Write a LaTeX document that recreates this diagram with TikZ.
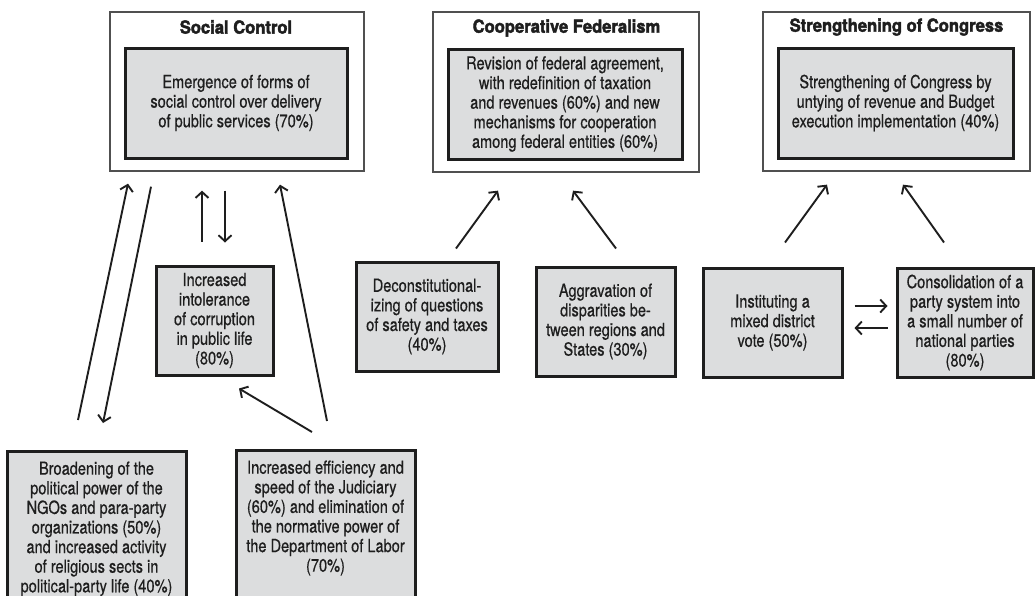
\documentclass[tikz,border=0pt]{standalone}
\usepackage{fontspec}
\setmainfont{TeX Gyre Heros}[FakeStretch=0.81, FakeBold=0.6]
\newfontfamily\titlefont{TeX Gyre Heros}[UprightFont={* Bold}, FakeStretch=0.92, FakeBold=2.2]
\usetikzlibrary{arrows.meta,calc}
\definecolor{boxfill}{RGB}{220,221,222}
\definecolor{outerline}{RGB}{80,80,80}
\definecolor{ink}{RGB}{30,30,30}
\tikzset{
  outerbox/.style={draw=outerline, line width=1.3pt, fill=white, inner sep=0pt},
  innerbox/.style={draw=ink, line width=3pt, fill=boxfill, inner sep=0pt, align=center,
     font=\fontsize{18}{19.6}\selectfont, text=ink},
  titletext/.style={font=\titlefont\fontsize{18}{20}\selectfont, text=ink, inner sep=0pt},
  arr/.style={draw=ink, line width=1.9pt, -{Straight Barb[length=6pt,width=13pt,line width=1.9pt]}},
}
\begin{document}
\begin{tikzpicture}[x=1pt,y=-1pt]
\useasboundingbox (0,0) rectangle (1035,595);
\clip (0,0) rectangle (1035,595);
% top groups
\node[outerbox, minimum width=254, minimum height=159] (scbox) at (237,91.5) {};
\node[titletext] (sct) at (236,27) {Social Control};
\node[innerbox, minimum width=222, minimum height=110] (sc) at (236,103)
  {Emergence of forms of\\social control over delivery\\of public services (70\%)};

\node[outerbox, minimum width=266, minimum height=160] (cfbox) at (566,92) {};
\node[titletext] (cft) at (566.5,28) {Cooperative Federalism};
\node[innerbox, minimum width=234, minimum height=110] (cf) at (565,104)
  {Revision of federal agreement,\\with redefinition of taxation\\and revenues (60\%) and new\\mechanisms for cooperation\\among federal entities (60\%)};

\node[outerbox, minimum width=267, minimum height=159] (socbox) at (896.5,91.5) {};
\node[titletext] (soct) at (896.5,27) {Strengthening of Congress};
\node[innerbox, minimum width=235, minimum height=110] (soc) at (895.5,103)
  {Strengthening of Congress by\\untying of revenue and Budget\\execution implementation (40\%)};

% middle row
\node[innerbox, minimum width=117, minimum height=109] (intol) at (214.5,320.5)
  {Increased\\intolerance\\of corruption\\in public life\\(80\%)};
\node[innerbox, minimum width=142, minimum height=109] (decon) at (427,316.5)
  {Deconstitutional-\\izing of questions\\of safety and taxes\\(40\%)};
\node[innerbox, minimum width=139, minimum height=109] (aggr) at (605.5,321.5)
  {Aggravation of\\disparities be-\\tween regions and\\States (30\%)};
\node[innerbox, minimum width=139, minimum height=109] (inst) at (772.5,322.5)
  {Instituting a\\mixed district\\vote (50\%)};
\node[innerbox, minimum width=136, minimum height=109] (cons) at (965,322.5)
  {Consolidation of a\\party system into\\a small number of\\national parties\\(80\%)};

% bottom row
\node[innerbox, anchor=north, minimum width=179, minimum height=170, inner ysep=5pt] (broad) at (96.5,450)
  {\parbox[t][150pt][t]{175pt}{\centering Broadening of the\\political power of the\\NGOs and para-party\\organizations (50\%)\\and increased activity\\of religious sects in\\political-party life (40\%)}};
\node[innerbox, anchor=north, minimum width=179, minimum height=170, inner ysep=5pt] (jud) at (325.5,449)
  {\parbox[t][150pt][t]{175pt}{\centering Increased efficiency and\\speed of the Judiciary\\(60\%) and elimination of\\the normative power of\\the Department of Labor\\(70\%)}};

% connectors: social control
\draw[arr] ($(broad.north)+(-18.5,-30)$) -- ($(scbox.south)+(-109,12)$);
\draw[arr] ($(scbox.south)+(-86,15)$) -- ($(broad.north)+(6.5,-27)$);
\draw[arr] ($(intol.north)+(-12.5,-23)$) -- ($(scbox.south)+(-35,19)$);
\draw[arr] ($(scbox.south)+(-12,19)$) -- ($(intol.north)+(10.5,-22)$);
\draw[arr] ($(jud.north)+(-13.5,-17)$) -- ($(intol.south)+(24.5,12)$);
\draw[arr] ($(jud.north)+(1.5,-28)$) -- ($(scbox.south)+(43,13)$);
% cooperative federalism
\draw[arr] ($(decon.north)+(29,-12)$) -- ($(cfbox.south)+(-68,18)$);
\draw[arr] ($(aggr.north)+(10.5,-17)$) -- ($(cfbox.south)+(7,18)$);
% strengthening of congress
\draw[arr] ($(inst.north)+(12.5,-24)$) -- ($(socbox.south)+(-69.5,13)$);
\draw[arr] ($(cons.north)+(-21,-24)$) -- ($(socbox.south)+(6.5,13)$);
\draw[arr] ($(inst.east)+(11,-16.5)$) -- ($(cons.west)+(-8,-16.5)$);
\draw[arr] ($(cons.west)+(-8,5.5)$) -- ($(inst.east)+(11,5.5)$);
\end{tikzpicture}
\end{document}
